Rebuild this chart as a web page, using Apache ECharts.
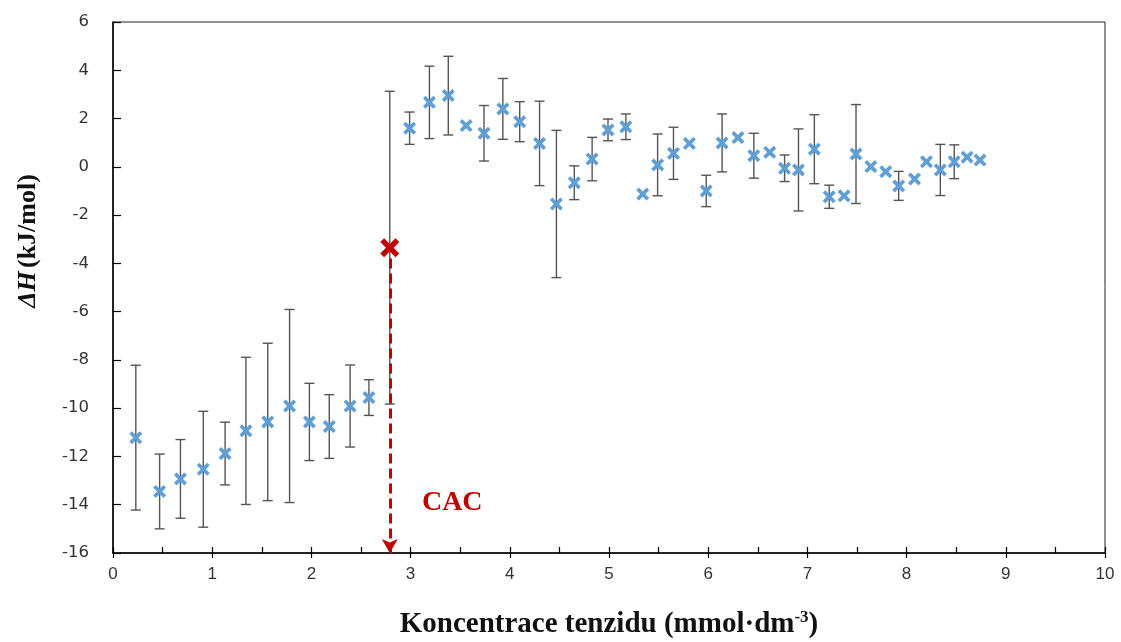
<!DOCTYPE html>
<html>
<head>
<meta charset="utf-8">
<script src="https://cdn.jsdelivr.net/npm/echarts@6/dist/echarts.min.js"></script>
<style>html,body{margin:0;padding:0;background:#fff}#c{width:1121px;height:642px}</style>
</head>
<body>
<div id="c"></div>
<script>
// concentration (mmol/dm3)
const xs = [0.23,0.47,0.68,0.91,1.13,1.34,1.56,1.78,1.98,2.18,2.39,2.58,
  2.99,3.19,3.38,3.56,3.74,3.93,4.10,4.30,4.47,4.65,4.83,4.99,5.17,5.34,5.49,5.65,5.81,
  5.98,6.14,6.30,6.46,6.62,6.77,6.91,7.07,7.22,7.37,7.49,7.64,7.79,7.92,8.08,8.20,8.34,8.48,8.61,8.74];
// enthalpy (kJ/mol)
const ys = [-11.22,-13.45,-12.93,-12.53,-11.88,-10.94,-10.57,-9.91,-10.57,-10.76,-9.91,-9.56,
  1.60,2.67,2.95,1.71,1.39,2.40,1.87,0.97,-1.54,-0.66,0.32,1.53,1.66,-1.13,0.08,0.56,0.97,
  -1.00,0.99,1.21,0.46,0.60,-0.06,-0.13,0.73,-1.24,-1.20,0.53,0.01,-0.20,-0.79,-0.50,0.21,-0.13,0.21,0.40,0.28];
// error (± kJ/mol), 0 = no error bar
const errs = [3.0,1.55,1.63,2.4,1.3,3.05,3.26,4.0,1.6,1.32,1.7,0.74,
  0.67,1.5,1.63,0,1.15,1.26,0.83,1.75,3.05,0.7,0.9,0.45,0.53,0,1.28,1.08,0,
  0.65,1.2,0,0.93,0,0.55,1.7,1.43,0.48,0,2.05,0,0,0.6,0,0,1.06,0.7,0,0];
// CAC point
const cacX = 2.79, cacY = -3.35, cacErr = 6.48;
const xTicks = [0,1,2,3,4,5,6,7,8,9,10];
const yTicks = [-16,-14,-12,-10,-8,-6,-4,-2,0,2,4,6];

const XSYM = 'path://M2,0L5,3L8,0L10,2L7,5L10,8L8,10L5,7L2,10L0,8L3,5L0,2Z';
const pts = xs.map((x,i)=>[x,ys[i]]);
const errData = [];
xs.forEach((x,i)=>{ if(errs[i]>0) errData.push([x, ys[i], errs[i]]); });
errData.push([cacX, cacY, cacErr]);

const chart = echarts.init(document.getElementById('c'));
chart.setOption({
  animation:false,
  backgroundColor:'#fff',
  grid:{left:113,right:16,top:22,bottom:89,containLabel:false,outerBoundsMode:'none',
    show:true,borderColor:'#222',borderWidth:1,backgroundColor:'transparent'},
  xAxis:[{
    type:'value',min:xTicks[0],max:xTicks[xTicks.length-1],interval:1,
    axisLine:{show:true,onZero:false,lineStyle:{color:'#000',width:1.5}},
    axisTick:{show:true,inside:true,length:6,lineStyle:{color:'#000',width:1.2}},
    minorTick:{show:true,splitNumber:2,length:6,lineStyle:{color:'#000',width:1.2}},
    splitLine:{show:false},
    axisLabel:{color:'#333',fontFamily:'Liberation Sans',fontSize:17,margin:13},
    name:'{t|Koncentrace tenzidu (mmol·dm}{s|-3}{t|)}',
    nameLocation:'middle',nameGap:56,
    nameTextStyle:{rich:{
      t:{fontFamily:'Liberation Serif',fontWeight:'bold',fontSize:29,color:'#111'},
      s:{fontFamily:'Liberation Serif',fontWeight:'bold',fontSize:17,color:'#111',verticalAlign:'top',padding:[0,0,14,0]}
    }}
  },{
    type:'value',min:xTicks[0],max:xTicks[xTicks.length-1],interval:1,position:'bottom',
    axisLine:{show:false,onZero:false},axisLabel:{show:false},splitLine:{show:false},
    axisTick:{show:true,inside:false,length:5,lineStyle:{color:'#000',width:1.2}}
  }],
  yAxis:{
    type:'value',min:yTicks[0],max:yTicks[yTicks.length-1],interval:2,
    axisLine:{show:true,onZero:false,lineStyle:{color:'#000',width:1.5}},
    axisTick:{show:true,inside:true,length:8,lineStyle:{color:'#000',width:1.2}},
    splitLine:{show:false},
    axisLabel:{color:'#333',fontFamily:'DejaVu Sans',fontSize:16.5,margin:24}
  },
  graphic:[{
    type:'text',x:28,y:241,rotation:Math.PI/2,
    style:{
      text:'{i|ΔH} {b|(kJ/mol)}',align:'center',verticalAlign:'middle',
      rich:{
        i:{fontFamily:'Liberation Serif',fontWeight:'bold',fontStyle:'italic',fontSize:26,fill:'#111'},
        b:{fontFamily:'Liberation Serif',fontWeight:'bold',fontSize:26,fill:'#111'}
      }
    }
  }],
  series:[{
    type:'custom',
    z:1,
    data:errData,
    renderItem:function(params,api){
      const x=api.value(0), y=api.value(1), e=api.value(2);
      const top=api.coord([x,y+e]), bot=api.coord([x,y-e]);
      const w=5;
      const st={stroke:'#555',lineWidth:1.4};
      return {type:'group',children:[
        {type:'line',shape:{x1:top[0],y1:top[1],x2:bot[0],y2:bot[1]},style:st},
        {type:'line',shape:{x1:top[0]-w,y1:top[1],x2:top[0]+w,y2:top[1]},style:st},
        {type:'line',shape:{x1:bot[0]-w,y1:bot[1],x2:bot[0]+w,y2:bot[1]},style:st}
      ]};
    }
  },{
    type:'scatter',z:3,
    data:pts,symbol:XSYM,symbolSize:13,
    itemStyle:{color:'#5f9fd6',opacity:1}
  },{
    type:'scatter',z:4,
    data:[[cacX,cacY]],symbol:XSYM,symbolSize:19,
    itemStyle:{color:'#c00000',opacity:1},
    markLine:{
      silent:true,symbol:['none','arrow'],symbolSize:[12,14],
      lineStyle:{color:'#c00000',width:3,type:[10,5]},
      label:{show:false},
      data:[[{coord:[cacX,cacY-0.45]},{coord:[cacX,yTicks[0]]}]]
    },
    markPoint:{
      silent:true,symbol:'circle',symbolSize:1,itemStyle:{color:'transparent'},
      label:{show:true,formatter:'CAC',color:'#c00000',fontFamily:'Liberation Serif',fontWeight:'bold',fontSize:28},
      data:[{coord:[3.42,-13.93]}]
    }
  }]
});
</script>
</body>
</html>
